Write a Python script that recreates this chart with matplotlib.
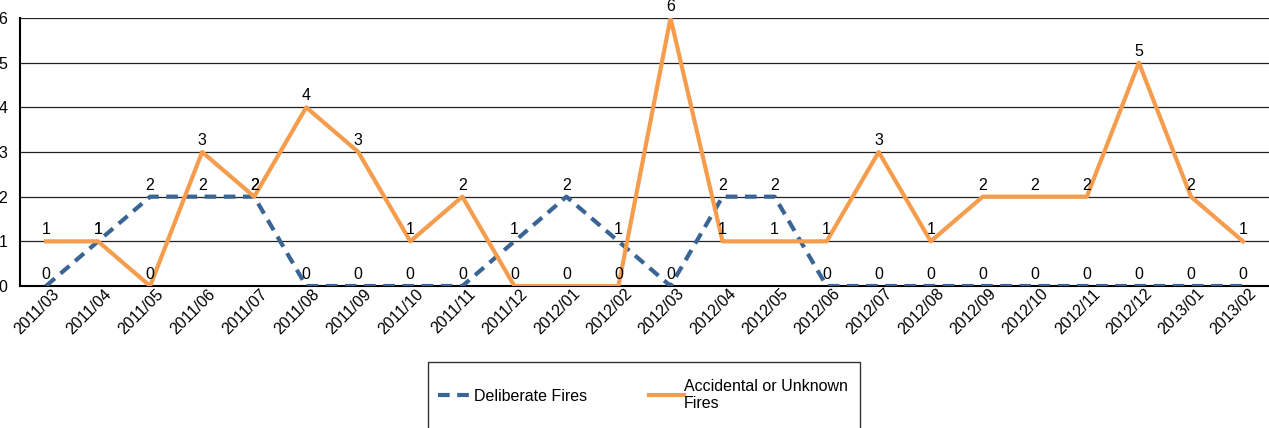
import numpy as np
import matplotlib
matplotlib.use("Agg")
import matplotlib.pyplot as plt
import matplotlib.transforms as mtransforms
from matplotlib.patches import Rectangle

plt.rcParams["font.family"] = ["Liberation Sans", "DejaVu Sans"]

months = ["2011/03", "2011/04", "2011/05", "2011/06", "2011/07", "2011/08",
          "2011/09", "2011/10", "2011/11", "2011/12", "2012/01", "2012/02",
          "2012/03", "2012/04", "2012/05", "2012/06", "2012/07", "2012/08",
          "2012/09", "2012/10", "2012/11", "2012/12", "2013/01", "2013/02"]
deliberate = [0, 1, 2, 2, 2, 0, 0, 0, 0, 1, 2, 1, 0, 2, 2, 0, 0, 0, 0, 0, 0, 0, 0, 0]
accidental = [1, 1, 0, 3, 2, 4, 3, 1, 2, 0, 0, 0, 6, 1, 1, 1, 3, 1, 2, 2, 2, 5, 2, 1]

BLUE = "#396595"
ORANGE = "#F59D4C"
FS = 11.5

fig = plt.figure(figsize=(12.69, 4.28), dpi=100)
ax = fig.add_axes([20 / 1269, 1 - 286 / 428, 1249 / 1269, 268 / 428])

x = np.arange(len(months))
ax.plot(x, deliberate, color=BLUE, lw=3, linestyle=(0, (2.8, 1.8)),
        label="Deliberate Fires", zorder=3)
ax.plot(x, accidental, color=ORANGE, lw=3, label="Accidental or Unknown\nFires",
        zorder=4)

for xi, d, a in zip(x, deliberate, accidental):
    ax.annotate(str(d), (xi, d), xytext=(0, 3), textcoords="offset points",
                ha="center", va="bottom", fontsize=FS, zorder=5)
    ax.annotate(str(a), (xi, a), xytext=(0, 3), textcoords="offset points",
                ha="center", va="bottom", fontsize=FS, zorder=5)

ax.set_xlim(-0.5, len(months) - 0.5)
ax.set_ylim(0, 6)
ax.set_yticks(range(0, 7))
ax.yaxis.grid(True, color="#222222", lw=0.9)
ax.set_axisbelow(True)
for s in ["top", "right"]:
    ax.spines[s].set_visible(False)
ax.spines["left"].set_linewidth(1.5)
ax.spines["bottom"].set_linewidth(1.5)
ax.tick_params(axis="y", length=0, pad=9, labelsize=FS)
ax.tick_params(axis="x", length=0, pad=4, labelsize=FS)

ax.set_xticks(x)
ax.set_xticklabels(months, rotation=45, ha="right", va="center",
                   rotation_mode="anchor")
offset = mtransforms.ScaledTranslation(11 / 100, 0, fig.dpi_scale_trans)
for lbl in ax.get_xticklabels():
    lbl.set_transform(lbl.get_transform() + offset)

fig.patches.append(Rectangle((428 / 1269, -0.05), 432 / 1269, 0.05 + 1 - 362 / 428,
                             transform=fig.transFigure, fill=False,
                             edgecolor="#333333", lw=1, clip_on=False))
fig.legend(loc="center left", bbox_to_anchor=(424 / 1269, 1 - 395 / 428), ncol=2,
           frameon=False, fontsize=FS, handlelength=2.2, handletextpad=0.0,
           columnspacing=3.9)

fig.savefig("out.png", dpi=100)
